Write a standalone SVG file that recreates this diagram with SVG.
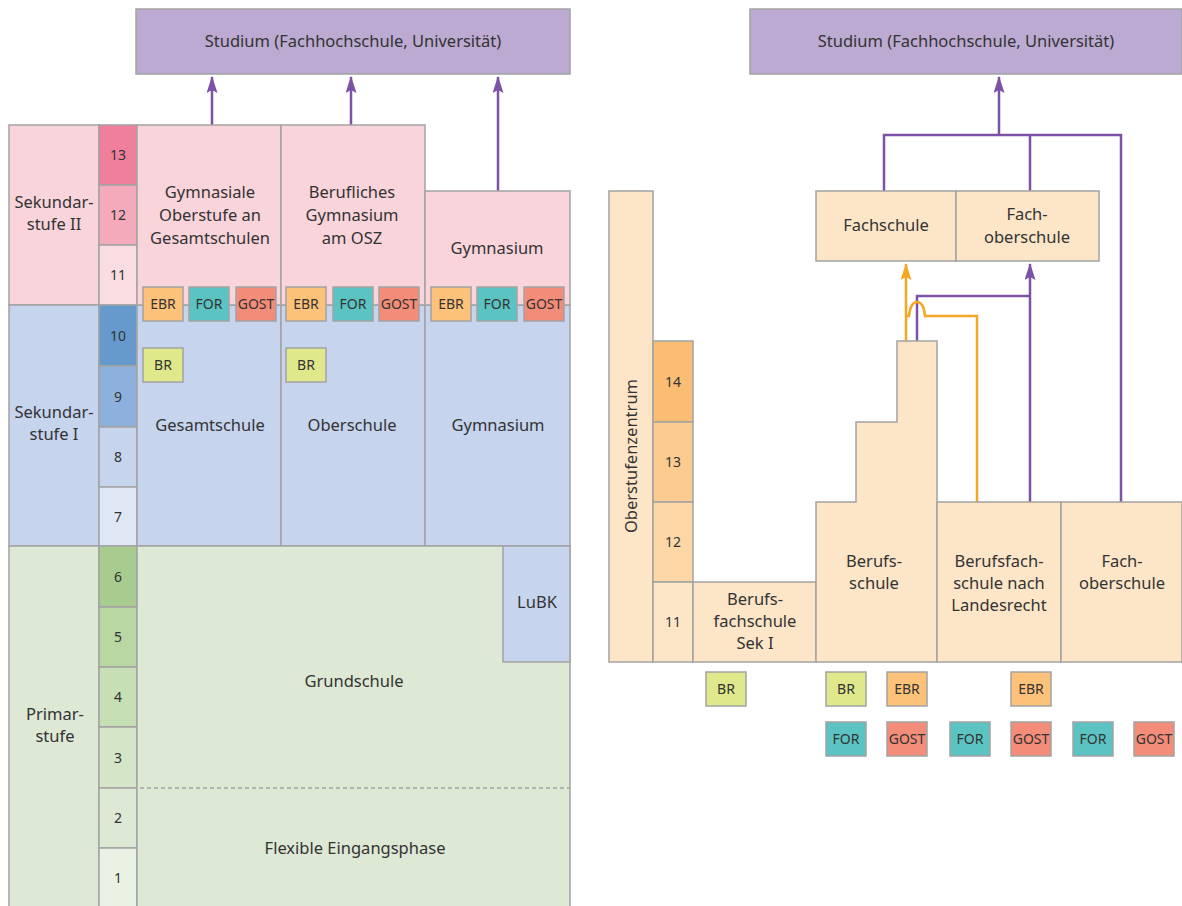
<svg xmlns="http://www.w3.org/2000/svg" width="1182" height="906" viewBox="0 0 1182 906">
<defs>
<style>
text{font-family:"Noto Sans","Open Sans",sans-serif;font-size:16.5px;fill:#333;text-anchor:middle}
.g{font-size:14px}
.b{font-size:14px}
.box{stroke:#a3a3a3;stroke-width:1.5}
.pk{fill:#f9d4db}.bl{fill:#c6d4ee}.gr{fill:#dde8d5}.or{fill:#fde5c8}.pu{fill:#bcaad2}
.ebr{fill:#fdc279}.for{fill:#5bc4c3}.gost{fill:#f38c78}.br{fill:#dfe88a}
.pl{stroke:#7b52a6;stroke-width:2.5;fill:none}
.ol{stroke:#f5a623;stroke-width:2.5;fill:none}
</style>
<marker id="ap" markerWidth="17" markerHeight="11" refX="16" refY="5.5" orient="auto" markerUnits="userSpaceOnUse" viewBox="0 0 17 11"><path d="M0,0 L17,5.5 L0,11 L3,5.5 Z" fill="#7b52a6"/></marker>
<marker id="ao" markerWidth="17" markerHeight="11" refX="16" refY="5.5" orient="auto" markerUnits="userSpaceOnUse" viewBox="0 0 17 11"><path d="M0,0 L17,5.5 L0,11 L3,5.5 Z" fill="#f5a623"/></marker>
</defs>

<g id="connectors">
<line class="pl" x1="212" y1="125" x2="212" y2="77" marker-end="url(#ap)"/>
<line class="pl" x1="351" y1="125" x2="351" y2="77" marker-end="url(#ap)"/>
<line class="pl" x1="498" y1="191" x2="498" y2="77" marker-end="url(#ap)"/>
<line class="pl" x1="999" y1="135" x2="999" y2="77" marker-end="url(#ap)"/>
<polyline class="pl" points="884,191 884,135 1121,135 1121,502"/>
<line class="pl" x1="1030" y1="135" x2="1030" y2="191"/>
<line class="pl" x1="1030" y1="502" x2="1030" y2="264" marker-end="url(#ap)"/>
<polyline class="pl" points="917,341 917,296 1030,296"/>
<line class="ol" x1="906" y1="341" x2="906" y2="264" marker-end="url(#ao)"/>
<path class="ol" d="M977,502 V316 H925 C924,304 920,302 917,302 C913,302 910,306 909,316 H906"/>
</g>

<g id="studium-left"><rect class="box pu" x="136" y="9" width="434" height="65"/><text x="353" y="47">Studium (Fachhochschule, Universität)</text></g>
<g id="studium-right"><rect class="box pu" x="750" y="9" width="432" height="65"/><text x="966" y="47">Studium (Fachhochschule, Universität)</text></g>

<g id="sek2-label"><rect class="box pk" x="9" y="125" width="90" height="180"/><text x="54" y="208">Sekundar-</text><text x="54" y="230">stufe II</text></g>
<g id="sek1-label"><rect class="box bl" x="9" y="305" width="90" height="241"/><text x="54" y="418">Sekundar-</text><text x="54" y="440">stufe I</text></g>
<g id="primar-label"><rect class="box gr" x="9" y="546" width="90" height="362"/><text x="55" y="720">Primar-</text><text x="55" y="742">stufe</text></g>

<g id="grades-left">
<rect class="box" fill="#f07f9c" x="99" y="125" width="38" height="60"/><text class="g" x="118" y="160">13</text>
<rect class="box" fill="#f4aabb" x="99" y="185" width="38" height="60"/><text class="g" x="118" y="220">12</text>
<rect class="box" fill="#fadde2" x="99" y="245" width="38" height="60"/><text class="g" x="118" y="280">11</text>
<rect class="box" fill="#6699cc" x="99" y="305" width="38" height="61"/><text class="g" x="118" y="341">10</text>
<rect class="box" fill="#8eb0dd" x="99" y="366" width="38" height="61"/><text class="g" x="118" y="402">9</text>
<rect class="box" fill="#c6d4ee" x="99" y="427" width="38" height="60"/><text class="g" x="118" y="462">8</text>
<rect class="box" fill="#dfe7f5" x="99" y="487" width="38" height="59"/><text class="g" x="118" y="522">7</text>
<rect class="box" fill="#a8cc8f" x="99" y="546" width="38" height="61"/><text class="g" x="118" y="582">6</text>
<rect class="box" fill="#b8d7a3" x="99" y="607" width="38" height="60"/><text class="g" x="118" y="642">5</text>
<rect class="box" fill="#c6dfb5" x="99" y="667" width="38" height="60"/><text class="g" x="118" y="702">4</text>
<rect class="box" fill="#d4e5c8" x="99" y="727" width="38" height="61"/><text class="g" x="118" y="763">3</text>
<rect class="box" fill="#dde8d5" x="99" y="788" width="38" height="60"/><text class="g" x="118" y="823">2</text>
<rect class="box" fill="#eaf2e4" x="99" y="848" width="38" height="60"/><text class="g" x="118" y="883">1</text>
</g>

<g id="gesamtschule"><rect class="box bl" x="137" y="305" width="144" height="241"/><text x="210" y="431">Gesamtschule</text></g>
<g id="oberschule"><rect class="box bl" x="281" y="305" width="144" height="241"/><text x="352" y="431">Oberschule</text></g>
<g id="gymnasium-sek1"><rect class="box bl" x="425" y="305" width="145" height="241"/><text x="498" y="431">Gymnasium</text></g>

<g id="gymnasiale-oberstufe"><rect class="box pk" x="137" y="125" width="144" height="180"/><text x="210" y="198">Gymnasiale</text><text x="210" y="221">Oberstufe an</text><text x="210" y="244">Gesamtschulen</text></g>
<g id="berufliches-gymnasium"><rect class="box pk" x="281" y="125" width="144" height="180"/><text x="352" y="198">Berufliches</text><text x="352" y="221">Gymnasium</text><text x="352" y="244">am OSZ</text></g>
<g id="gymnasium-sek2"><rect class="box pk" x="425" y="191" width="145" height="114"/><text x="497" y="254">Gymnasium</text></g>

<g id="badges-left">
<rect class="box ebr" x="143" y="287" width="40" height="34"/><text class="b" x="163" y="309">EBR</text>
<rect class="box for" x="189" y="287" width="40" height="34"/><text class="b" x="209" y="309">FOR</text>
<rect class="box gost" x="236" y="287" width="40" height="34"/><text class="b" x="256" y="309">GOST</text>
<rect class="box ebr" x="286" y="287" width="40" height="34"/><text class="b" x="306" y="309">EBR</text>
<rect class="box for" x="333" y="287" width="40" height="34"/><text class="b" x="353" y="309">FOR</text>
<rect class="box gost" x="379" y="287" width="40" height="34"/><text class="b" x="399" y="309">GOST</text>
<rect class="box ebr" x="431" y="287" width="40" height="34"/><text class="b" x="451" y="309">EBR</text>
<rect class="box for" x="477" y="287" width="40" height="34"/><text class="b" x="497" y="309">FOR</text>
<rect class="box gost" x="524" y="287" width="40" height="34"/><text class="b" x="544" y="309">GOST</text>
<rect class="box br" x="143" y="348" width="40" height="34"/><text class="b" x="163" y="370">BR</text>
<rect class="box br" x="286" y="348" width="40" height="34"/><text class="b" x="306" y="370">BR</text>
</g>

<g id="grundschule"><rect class="box gr" x="137" y="546" width="433" height="362"/>
<line x1="140" y1="788" x2="570" y2="788" stroke="#a3a3a3" stroke-width="1.5" stroke-dasharray="4,3"/>
<text x="354" y="687">Grundschule</text><text x="355" y="854">Flexible Eingangsphase</text></g>
<g id="lubk"><rect class="box bl" x="503" y="546" width="67" height="116"/><text x="537" y="608">LuBK</text></g>

<g id="oberstufenzentrum"><rect class="box or" x="609" y="191" width="44" height="471"/><text x="631" y="456" transform="rotate(-90 631 456)" dy="6">Oberstufenzentrum</text></g>
<g id="grades-right">
<rect class="box" fill="#fbbd74" x="653" y="341" width="40" height="81"/><text class="g" x="673" y="387">14</text>
<rect class="box" fill="#fccb8f" x="653" y="422" width="40" height="80"/><text class="g" x="673" y="467">13</text>
<rect class="box" fill="#fdd6a6" x="653" y="502" width="40" height="80"/><text class="g" x="673" y="547">12</text>
<rect class="box" fill="#fde5c8" x="653" y="582" width="40" height="80"/><text class="g" x="673" y="627">11</text>
</g>
<g id="berufsfachschule-sek1"><rect class="box or" x="693" y="582" width="123" height="80"/><text x="755" y="605">Berufs-</text><text x="755" y="627">fachschule</text><text x="755" y="649">Sek I</text></g>
<g id="berufsschule"><path class="box or" d="M816,662 V502 H856 V422 H897 V341 H937 V662 Z"/><text x="874" y="567">Berufs-</text><text x="874" y="589">schule</text></g>
<g id="berufsfachschule-landesrecht"><rect class="box or" x="937" y="502" width="124" height="160"/><text x="999" y="567">Berufsfach-</text><text x="999" y="589">schule nach</text><text x="999" y="611">Landesrecht</text></g>
<g id="fachoberschule-bottom"><rect class="box or" x="1061" y="502" width="121" height="160"/><text x="1122" y="567">Fach-</text><text x="1122" y="589">oberschule</text></g>
<g id="fachschule"><rect class="box or" x="816" y="191" width="140" height="70"/><text x="886" y="231">Fachschule</text></g>
<g id="fachoberschule-top"><rect class="box or" x="956" y="191" width="143" height="70"/><text x="1027" y="220">Fach-</text><text x="1027" y="243">oberschule</text></g>

<g id="badges-right">
<rect class="box br" x="706" y="672" width="40" height="34"/><text class="b" x="726" y="694">BR</text>
<rect class="box br" x="826" y="672" width="40" height="34"/><text class="b" x="846" y="694">BR</text>
<rect class="box ebr" x="887" y="672" width="40" height="34"/><text class="b" x="907" y="694">EBR</text>
<rect class="box ebr" x="1011" y="672" width="40" height="34"/><text class="b" x="1031" y="694">EBR</text>
<rect class="box for" x="826" y="722" width="40" height="34"/><text class="b" x="846" y="744">FOR</text>
<rect class="box gost" x="887" y="722" width="40" height="34"/><text class="b" x="907" y="744">GOST</text>
<rect class="box for" x="950" y="722" width="40" height="34"/><text class="b" x="970" y="744">FOR</text>
<rect class="box gost" x="1011" y="722" width="40" height="34"/><text class="b" x="1031" y="744">GOST</text>
<rect class="box for" x="1073" y="722" width="40" height="34"/><text class="b" x="1093" y="744">FOR</text>
<rect class="box gost" x="1134" y="722" width="40" height="34"/><text class="b" x="1154" y="744">GOST</text>
</g>
</svg>
